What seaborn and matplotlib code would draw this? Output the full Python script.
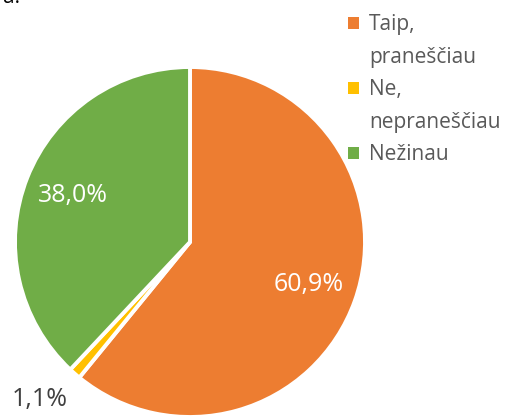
import seaborn as sns
import matplotlib.pyplot as plt
from matplotlib.patches import Patch
import numpy as np

categories = ["Taip, praneščiau", "Ne, nepraneščiau", "Nežinau"]
shares = [60.9, 1.1, 38.0]
colors = ["#ED7D31", "#FFC000", "#70AD47"]

sns.set_theme(style="white")
plt.rcParams["font.family"] = ["Open Sans", "DejaVu Sans"]

fig = plt.figure(figsize=(5.14, 4.17), dpi=100)
ax = fig.add_axes([15 / 514, 0.0, 350 / 514, 350 / 417])

wedges, texts, autotexts = ax.pie(
    shares,
    colors=colors,
    startangle=90,
    counterclock=False,
    autopct=lambda p: f"{p:.1f}".replace(".", ",") + "%",
    pctdistance=0.72,
    wedgeprops=dict(edgecolor="white", linewidth=2.8),
    textprops=dict(color="white", fontsize=18),
)
ax.set_xlim(-1, 1)
ax.set_ylim(-1, 1)
ax.set_aspect("equal")

# small slice label goes outside the pie
w = wedges[1]
mid = np.deg2rad((w.theta1 + w.theta2) / 2)
autotexts[1].set_position((1.30 * np.cos(mid), 1.20 * np.sin(mid)))
autotexts[1].set_color("#404040")

# legend labels wrap onto a second line (one entry per line, blank handle)
leg_handles, leg_labels = [], []
for cat, col in zip(categories, colors):
    lines = cat.split(" ")
    for i, part in enumerate(lines):
        leg_handles.append(Patch(facecolor=col if i == 0 else "none", edgecolor="none"))
        leg_labels.append(part)

leg = fig.legend(
    leg_handles, leg_labels,
    loc="upper left",
    bbox_to_anchor=(340 / 514, 1.0 - 6 / 417),
    frameon=False,
    fontsize=15,
    handlelength=0.5,
    handleheight=0.5,
    handletextpad=0.5,
    labelspacing=0.55,
    borderaxespad=0,
)
for t in leg.get_texts():
    t.set_color("#595959")

fig.text(0.005, 1 - 3 / 417, "a.", fontsize=15, color="black", va="baseline")

fig.savefig("out.png", dpi=100)
